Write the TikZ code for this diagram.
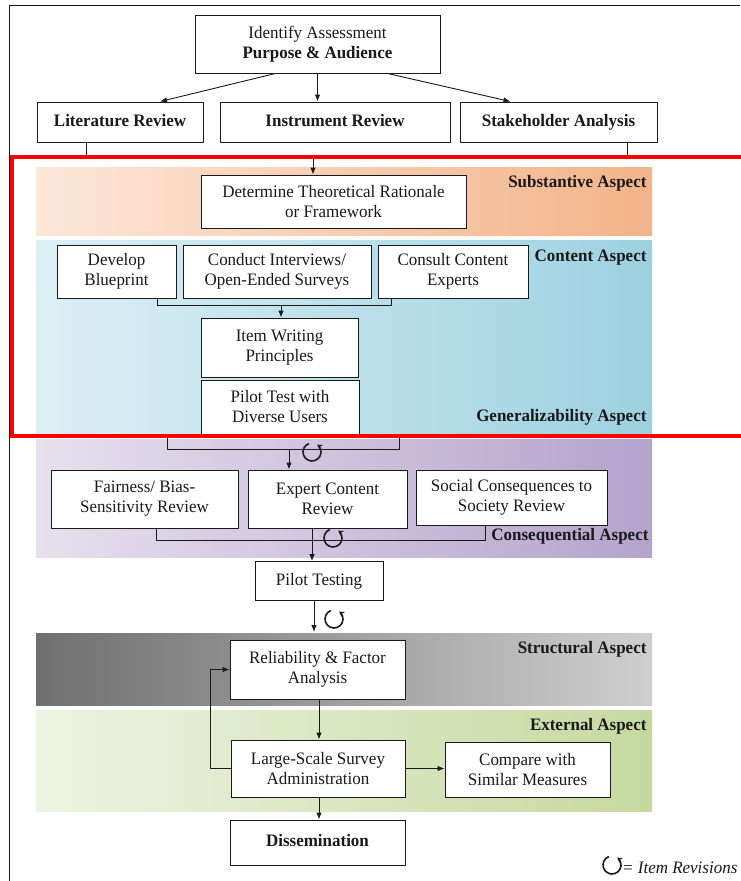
\documentclass[tikz,border=0pt]{standalone}
\usepackage{fontspec}
\setmainfont[FakeStretch=0.97]{Liberation Serif}
\usetikzlibrary{arrows.meta,calc,positioning}
\definecolor{Ink}{HTML}{1A1A1A}
\definecolor{PeachSoft}{HTML}{FCE6D8}
\definecolor{PeachDeep}{HTML}{F2B48A}
\definecolor{SkySoft}{HTML}{DCEFF4}
\definecolor{SkyDeep}{HTML}{9DD1E0}
\definecolor{LilacSoft}{HTML}{E6E0EE}
\definecolor{LilacDeep}{HTML}{B5A3CB}
\definecolor{SlateDeep}{HTML}{6F6F6F}
\definecolor{SlateSoft}{HTML}{CFCFCF}
\definecolor{SageSoft}{HTML}{EEF3E2}
\definecolor{SageDeep}{HTML}{C6D9A0}
\definecolor{MarkRed}{HTML}{FF0000}
\newcommand{\revmark}[1]{\draw[Ink,line width=1.6pt,-{Stealth[length=5pt,width=6pt]}] ($(#1)+(-110:9)$) arc[start angle=-110,end angle=-415,radius=9];}

\begin{document}
\begin{tikzpicture}[x=1pt,y=-1pt,every node/.style={font=\fontsize{17.5}{20}\selectfont,text=Ink},box/.style={draw=Ink,fill=white,line width=0.9pt,align=center,inner sep=2pt},single/.style={text height=12.5pt,text depth=4pt},link/.style={draw=Ink,line width=0.9pt,-{Latex[length=7pt,width=5.5pt]}},wire/.style={draw=Ink,line width=0.8pt},aspect/.style={anchor=north east,font=\fontsize{17.5}{20}\selectfont\bfseries}]
\useasboundingbox (0,0) rectangle (740,881);
\fill[white] (0,0) rectangle (740,881);
\draw[Ink,line width=0.9pt] (9.5,881) -- (9.5,5.5) -- (740,5.5);
% aspect bands
\shade[left color=PeachSoft,right color=PeachDeep] (36,167) rectangle (652,235);
\shade[left color=SkySoft,right color=SkyDeep] (36,240) rectangle (652,437);
\shade[left color=LilacSoft,right color=LilacDeep] (36,439) rectangle (652,557);
\shade[left color=SlateDeep,right color=SlateSoft] (36,633) rectangle (652,705);
\shade[left color=SageSoft,right color=SageDeep] (36,710) rectangle (652,811);
\node[aspect] (substantive) at (650,172) {Substantive Aspect};
\node[aspect] (content) at (650,246) {Content Aspect};
\node[aspect] (general) at (650,406) {Generalizability Aspect};
\node[aspect] (conseq) at (652,525) {Consequential Aspect};
\node[aspect] (structural) at (650,638) {Structural Aspect};
\node[aspect] (external) at (650,715) {External Aspect};
% boxes
\node[box,minimum width=245,minimum height=58] (purpose) at (317.5,44) {Identify Assessment\\\textbf{Purpose \& Audience}};
\node[box,single,minimum width=166,minimum height=40,font=\fontsize{17.5}{20}\selectfont\bfseries] (literature) at (120,122) {Literature Review};
\node[box,single,minimum width=230,minimum height=40,font=\fontsize{17.5}{20}\selectfont\bfseries] (instrument) at (335,122) {Instrument Review};
\node[box,single,minimum width=197,minimum height=40,font=\fontsize{17.5}{20}\selectfont\bfseries] (stakeholder) at (558.5,122) {Stakeholder Analysis};
\node[box,minimum width=265,minimum height=53] (rationale) at (333.5,201.5) {Determine Theoretical Rationale\\or Framework};
\node[box,minimum width=119,minimum height=53] (blueprint) at (116.5,271.5) {Develop\\Blueprint};
\node[box,minimum width=188,minimum height=53] (interviews) at (277,271.5) {Conduct Interviews/\\Open-Ended Surveys};
\node[box,minimum width=150,minimum height=53] (experts) at (453,271.5) {Consult Content\\Experts};
\node[box,minimum width=157,minimum height=59] (writing) at (279.5,347.5) {Item Writing\\Principles};
\node[box,minimum width=158,minimum height=54] (pilottest) at (280,407) {Pilot Test with\\Diverse Users};
\node[box,minimum width=187,minimum height=58] (fairness) at (144.5,499) {Fairness/ Bias-\\Sensitivity Review};
\node[box,minimum width=159,minimum height=58] (expert) at (327.5,499) {Expert Content\\Review};
\node[box,minimum width=191,minimum height=55] (social) at (511.5,497.5) {Social Consequences to\\Society Review};
\node[box,single,minimum width=128,minimum height=39] (pilot) at (319,581) {Pilot Testing};
\node[box,minimum width=175,minimum height=59] (factor) at (317.5,669.5) {Reliability \& Factor\\Analysis};
\node[box,minimum width=174,minimum height=57] (survey) at (318,768.5) {Large-Scale Survey\\Administration};
\node[box,minimum width=165,minimum height=55] (compare) at (527.5,769.5) {Compare with\\Similar Measures};
\node[box,single,minimum width=175,minimum height=45,font=\fontsize{17.5}{20}\selectfont\bfseries] (dissem) at (317.5,842.5) {Dissemination};
% connectors
\draw[link] ($(purpose.south)+(-42,0)$) -- ($(literature.north)+(40,0)$);
\draw[link] (purpose.south) -- (purpose.south |- instrument.north);
\draw[link] ($(purpose.south)+(70,0)$) -- ($(stakeholder.north)+(-48,0)$);
\coordinate (litfoot) at ($(literature.south west)+(50,15)$);
\coordinate (stkfoot) at ($(stakeholder.south west)+(168,15)$);
\draw[wire] (litfoot |- literature.south) -- (litfoot) -- (stkfoot) -- (stkfoot |- stakeholder.south);
\coordinate (stemtop) at (313,157);
\draw[link] (stemtop) -- (stemtop |- rationale.north);
\coordinate (bpfoot) at ($(blueprint.south west)+(101,7)$);
\coordinate (cefoot) at ($(experts.south west)+(14,7)$);
\draw[wire] (bpfoot |- blueprint.south) -- (bpfoot) -- (cefoot) -- (cefoot |- experts.south);
\coordinate (iwtop) at (281,305);
\draw[link] (iwtop) -- (iwtop |- writing.north);
\coordinate (ptleft) at (167,449);
\coordinate (ptright) at (399,449);
\coordinate (ptmid) at (289,449);
\draw[wire] (ptleft |- pilottest.south) -- (ptleft) -- (ptright) -- (ptright |- pilottest.south);
\draw[link] (ptmid) -- (ptmid |- expert.north);
\revmark{312,452}
\coordinate (fbfoot) at ($(fairness.south west)+(106,12)$);
\coordinate (scfoot) at ($(social.south west)+(70,15)$);
\draw[wire] (fbfoot |- fairness.south) -- (fbfoot) -- (scfoot) -- (scfoot |- social.south);
\coordinate (ecdrop) at (312,540);
\draw[link] (ecdrop |- expert.south) -- (ecdrop |- pilot.north);
\revmark{333,538}
\coordinate (ptdrop) at (314,632);
\draw[link] (ptdrop |- pilot.south) -- (ptdrop);
\revmark{334,619}
\coordinate (rfdrop) at (319,720);
\draw[link] (rfdrop |- factor.south) -- (rfdrop |- survey.north);
\draw[link] (survey.east) -- (compare.west |- survey.east);
\draw[link] (survey.west) -- (210,768.5) -- (210,669.5) -- (factor.west);
\draw[link] (rfdrop |- survey.south) -- (rfdrop |- dissem.north);
% legend
\revmark{612,865}
\node[anchor=west,inner sep=1pt,font=\fontsize{17.5}{20}\selectfont\itshape] (legend) at (621,868) {= Item Revisions};
% highlight frame
\draw[MarkRed,line width=4pt] (12,157) rectangle (750,436);
\end{tikzpicture}
\end{document}
